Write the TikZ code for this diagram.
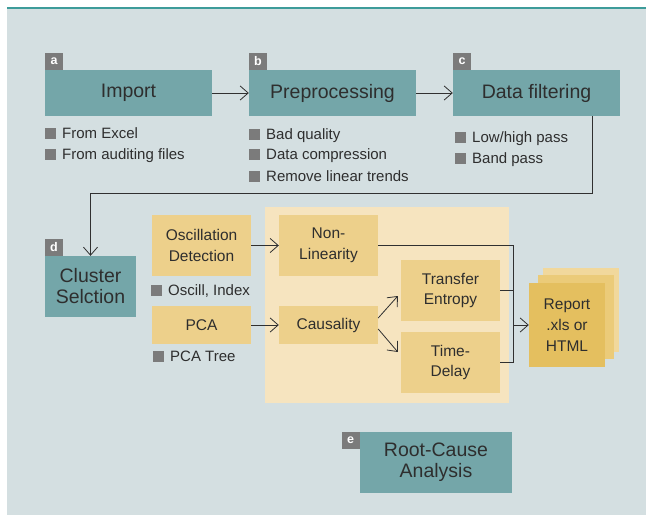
\documentclass[tikz,border=0pt]{standalone}
\usepackage{fontspec}
\setmainfont{Liberation Sans}
\usetikzlibrary{arrows.meta,calc}
\definecolor{bgblue}{HTML}{D4DFE1}
\definecolor{topline}{HTML}{3E9C9A}
\definecolor{tealfill}{HTML}{74A6A9}
\definecolor{taggray}{HTML}{7B7B7B}
\definecolor{boxtext}{HTML}{2E2E2E}
\definecolor{linegray}{HTML}{303030}
\definecolor{regionfill}{HTML}{F6E4BF}
\definecolor{yfill}{HTML}{EDD08B}
\definecolor{repfront}{HTML}{E4BF5F}
\definecolor{repmid}{HTML}{EBCB79}
\definecolor{repback}{HTML}{F1D89C}
\tikzset{
 tealbox/.style={fill=tealfill, text=boxtext, minimum width=167pt, minimum height=46pt,
   inner sep=0pt, align=center, font=\fontsize{19.5}{21}\selectfont},
 ybox/.style={fill=yfill, text=boxtext, minimum width=99pt, inner sep=0pt,
   align=center, font=\fontsize{15.5}{20.5}\selectfont},
 tag/.style={fill=taggray, text=white, minimum width=18pt, minimum height=17pt,
   inner sep=0pt, font=\fontsize{12.5}{12.5}\selectfont\bfseries},
 bul/.style={anchor=base west, inner sep=0pt, text=boxtext, font=\fontsize{15}{18}\selectfont},
 conn/.style={line width=0.8pt, draw=linegray},
 arr/.style={conn, -{Straight Barb[length=8pt,width=14pt]}}
}
\newcommand{\sqbul}{\textcolor{taggray}{\rule[-0.5pt]{11pt}{11pt}}\hspace{6pt}}
\begin{document}
\begin{tikzpicture}[x=1pt,y=-1pt]
\useasboundingbox (0,0) rectangle (646,515);
% Hintergrund
\fill[bgblue] (7,8) rectangle (646,515);
\draw[topline, line width=1.3pt] (7,8) -- (646,8);
\fill[regionfill] (265,207) rectangle (509,403);
% obere Reihe
\node[tealbox] (imp) at (128.5,93) {Import};
\node[tealbox] (prep) at (332.5,93) {Preprocessing};
\node[tealbox] (filt) at (536.5,93) {Data filtering};
\node[tag, anchor=south west] (taga) at (imp.north west) {a};
\node[tag, anchor=south west] (tagb) at (prep.north west) {b};
\node[tag, anchor=south west] (tagc) at (filt.north west) {c};
\draw[arr] (imp) -- (prep);
\draw[arr] (prep) -- (filt);
% Aufzaehlungen
\node[bul] (b1) at (45,138) {\sqbul From Excel};
\node[bul] (b2) at (45,159) {\sqbul From auditing files};
\node[bul] (b3) at (249,139) {\sqbul Bad quality};
\node[bul] (b4) at (249,159) {\sqbul Data compression};
\node[bul] (b5) at (249,181) {\sqbul Remove linear trends};
\node[bul] (b6) at (455,142) {\sqbul Low/high pass};
\node[bul] (b7) at (455,163) {\sqbul Band pass};
% Cluster
\node[tealbox, minimum width=91pt, minimum height=61pt] (clus) at (90.5,286.5) {Cluster\\Selction};
\node[tag, anchor=south west] (tagd) at (clus.north west) {d};
\coordinate (bend) at (592,193);
\draw[arr] (filt.south -| bend) -- (bend) -| (clus.north);
% Analyse
\node[ybox, minimum height=61pt] (osc) at (201.5,245.5) {Oscillation\\Detection};
\node[ybox, minimum height=38pt] (pca) at (201.5,325) {PCA};
\node[bul] (b8) at (151,295) {\sqbul Oscill, Index};
\node[bul] (b9) at (153,361) {\sqbul PCA Tree};
\node[ybox, minimum height=61pt] (nonl) at (328.5,245.5) {Non-\\Linearity};
\node[ybox, minimum height=38pt] (caus) at (328.5,325) {Causality};
\node[ybox, minimum height=61pt] (trans) at (450.5,290.5) {Transfer\\Entropy};
\node[ybox, minimum height=61pt] (time) at (450.5,362.5) {Time-\\Delay};
\draw[arr] (osc) -- (nonl);
\draw[arr] (pca) -- (caus);
\draw[arr] ($(caus.east)+(0,-7)$) -- ($(trans.west)+(-3,5.5)$);
\draw[arr] ($(caus.east)+(0,4)$) -- ($(time.west)+(-3,-10.5)$);
% Report
\fill[repback] (543,268) rectangle (619,352);
\fill[repmid] (538,275) rectangle (614,359);
\node[ybox, fill=repfront, minimum width=76pt, minimum height=84pt,
  font=\fontsize{15.5}{21}\selectfont] (rep) at (567,325) {Report\\.xls or\\HTML};
\coordinate (join) at (513,325);
\draw[conn] (nonl.east) -| (join);
\draw[conn] (trans.east) -| (join);
\draw[conn] (time.east) -| (join);
\draw[arr] (join) -- (rep.west);
% Root-Cause
\node[tealbox, minimum width=152pt, minimum height=61pt] (root) at (436,462.5) {Root-Cause\\Analysis};
\node[tag, anchor=north east] (tage) at (root.north west) {e};
\end{tikzpicture}
\end{document}
